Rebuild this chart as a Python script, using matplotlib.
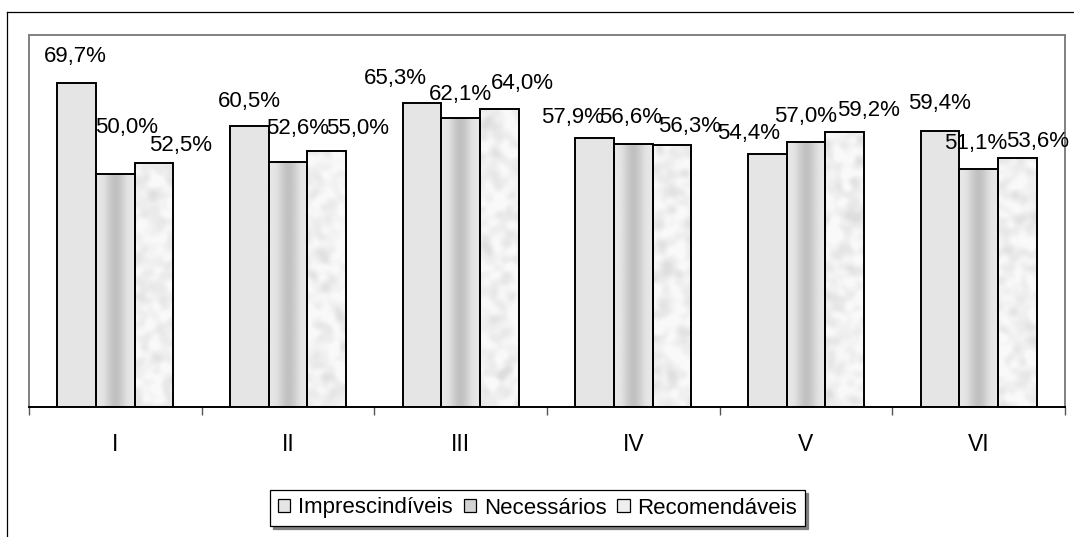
import numpy as np
import matplotlib
matplotlib.use("Agg")
import matplotlib.pyplot as plt
from matplotlib.lines import Line2D
from matplotlib.patches import Patch

plt.rcParams['font.family'] = ['Liberation Sans', 'DejaVu Sans']

# Data
categorias = ["I", "II", "III", "IV", "V", "VI"]
series = ["Imprescindíveis", "Necessários", "Recomendáveis"]
imprescindiveis = [69.7, 60.5, 65.3, 57.9, 54.4, 59.4]
necessarios = [50.0, 52.6, 62.1, 56.6, 57.0, 51.1]
recomendaveis = [52.5, 55.0, 64.0, 56.3, 59.2, 53.6]

# label nudges in pixels (dx, dy above bar top to baseline)
nudge_dx = [[-1, 0, -27, -22, -19, 0],
            [11, 10, 0, -3, 0, -3],
            [27, 31, 23, 18, 24, 20]]
nudge_dy = [[21, 19, 19, 15, 15, 22],
            [42, 28, 18, 21, 20, 20],
            [12, 17, 20, 13, 16, 11]]

fig = plt.figure(figsize=(10.74, 5.37), dpi=100)
ax = fig.add_axes([29 / 1074, 1 - 407 / 537, (1065 - 29) / 1074, (407 - 35) / 537])

x = np.arange(len(categorias))
w = 0.224
valores = [imprescindiveis, necessarios, recomendaveis]
cores = ["#e5e5e5", "#d2d2d2", "#efefef"]

bars = []
for i, vals in enumerate(valores):
    b = ax.bar(x + (i - 1) * w, vals, w, color=cores[i], edgecolor="none", zorder=1)
    bars.append(b)

ax.set_xlim(-0.5, len(categorias) - 0.5)
ax.set_ylim(0, 80)

# vertical gradient stripes for "Necessários"
t = np.linspace(0, 1, 64)
prof = 0.905 - 0.15 * (0.5 - 0.5 * np.cos(2 * np.pi * t)) ** 1.6
grad = prof[np.newaxis, :]
for r in bars[1]:
    x0, y0, bw, bh = r.get_x(), r.get_y(), r.get_width(), r.get_height()
    im = ax.imshow(grad, cmap="gray", vmin=0, vmax=1, aspect="auto",
                   extent=(x0, x0 + bw, y0, y0 + bh), interpolation="bilinear", zorder=2)
    im.set_clip_path(r)

# mottled texture for "Recomendáveis"
rng = np.random.default_rng(7)
noise = rng.random((380, 1040))
ky = np.fft.fftfreq(noise.shape[0])[:, None]
kx = np.fft.fftfreq(noise.shape[1])[None, :]
sigma = 3.5
blur = np.real(np.fft.ifft2(np.fft.fft2(noise) * np.exp(-2 * (np.pi * sigma) ** 2 * (kx ** 2 + ky ** 2))))
blur = (blur - blur.mean()) / blur.std()
tex = np.clip(0.945 - 0.025 * np.clip(blur, -1.2, 3.0), 0.85, 0.98)
for r in bars[2]:
    im = ax.imshow(tex, cmap="gray", vmin=0, vmax=1, aspect="auto",
                   extent=(-0.5, len(categorias) - 0.5, 0, 80), interpolation="bilinear", zorder=2)
    im.set_clip_path(r)

# outlines on top
for i, vals in enumerate(valores):
    ax.bar(x + (i - 1) * w, vals, w, fill=False, edgecolor="black", linewidth=1.4, zorder=3)

# value labels
for i, vals in enumerate(valores):
    for j, v in enumerate(vals):
        ax.annotate(f"{v:.1f}%".replace(".", ","),
                    xy=(x[j] + (i - 1) * w, v),
                    xytext=(nudge_dx[i][j], nudge_dy[i][j]), textcoords="offset pixels",
                    ha="center", va="baseline", fontsize=16, zorder=4)

# axes styling
for s in ["left", "top", "right"]:
    ax.spines[s].set_color("#808080")
    ax.spines[s].set_linewidth(1.4)
ax.spines["bottom"].set_color("black")
ax.spines["bottom"].set_linewidth(1.4)
ax.set_yticks([])
ax.set_xticks(x)
ax.set_xticklabels(categorias, fontsize=16.5)
ax.tick_params(axis="x", which="major", length=0, pad=19)
ax.set_xticks(np.arange(-0.5, len(categorias)), minor=True)
ax.tick_params(axis="x", which="minor", length=6, width=1, color="#555555", direction="out")

# legend
handles = [Patch(facecolor=cores[i], edgecolor="black", linewidth=0.9) for i in range(3)]
leg = fig.legend(handles, series, loc="center right", bbox_to_anchor=(805 / 1074, 1 - 508 / 537),
                 ncol=3, fontsize=16, frameon=True, fancybox=False, shadow={"color": "#808080", "alpha": 1},
                 handlelength=0.55, handleheight=0.55, handletextpad=0.35, columnspacing=0.5,
                 borderpad=0.35, borderaxespad=0)
leg.get_frame().set_edgecolor("black")
leg.get_frame().set_linewidth(0.9)

# outer frame
fig.add_artist(Line2D([7 / 1074, 7 / 1074], [0, 1 - 12 / 537], color="black", linewidth=0.9,
                      transform=fig.transFigure))
fig.add_artist(Line2D([7 / 1074, 1], [1 - 12 / 537, 1 - 12 / 537], color="black", linewidth=0.9,
                      transform=fig.transFigure))

fig.savefig("out.png", dpi=100)
